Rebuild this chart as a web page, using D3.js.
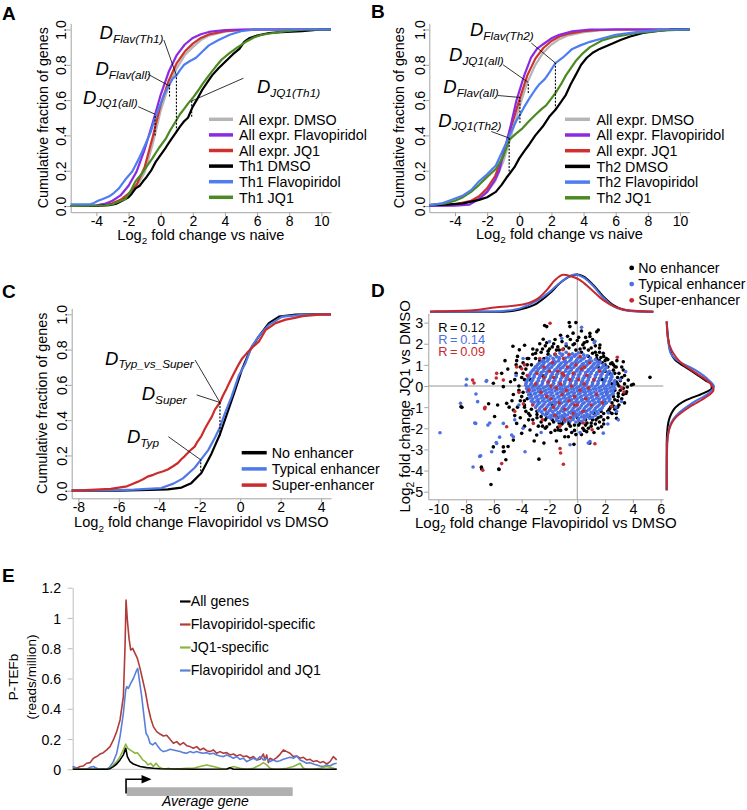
<!DOCTYPE html>
<html>
<head>
<meta charset="utf-8">
<script src="https://d3js.org/d3.v7.min.js"></script>
<style>
html,body{margin:0;padding:0;background:#fff;}
svg{display:block;}
</style>
</head>
<body>
<svg id="fig" width="747" height="810" xmlns="http://www.w3.org/2000/svg"></svg>
<script>
// ======================= DATA =======================
const cdfTicks = [0, 0.2, 0.4, 0.6, 0.8, 1.0];
const abTicksX = [-4, -2, 0, 2, 4, 6, 8, 10];
const cTicksX = [-8, -6, -4, -2, 0, 2, 4];
const dTicksX = [-10, -8, -6, -4, -2, 0, 2, 4, 6];
const dTicksY = [-5, -4, -3, -2, -1, 0, 1, 2, 3];
const eTicksY = [0, 0.2, 0.4, 0.6, 0.8, 1, 1.2];

// Panel A: cumulative fraction vs log2 FC (Th1)
const aNames = ["All expr. DMSO", "All expr. Flavopiridol", "All expr. JQ1", "Th1 DMSO", "Th1 Flavopiridol", "Th1 JQ1"];
const aAllDMSO = [[-5.6,0],[-4,0.003],[-3,0.013],[-2.5,0.03],[-2,0.06],[-1.5,0.11],[-1,0.19],[-0.5,0.35],[0,0.54],[0.5,0.68],[1,0.78],[1.5,0.855],[2,0.9],[2.5,0.94],[3,0.965],[4,0.988],[5,0.997],[6,1],[10.6,1]];
const aAllFlavo = [[-5.6,0],[-4,0.004],[-3.5,0.012],[-3,0.03],[-2.5,0.06],[-2,0.115],[-1.5,0.195],[-1,0.32],[-0.5,0.47],[0,0.63],[0.5,0.76],[1,0.855],[1.5,0.915],[2,0.952],[2.5,0.973],[3,0.986],[4,0.997],[5,1],[10.6,1]];
const aAllJQ1 = [[-5.6,0],[-4,0.003],[-3,0.015],[-2.5,0.035],[-2,0.07],[-1.5,0.12],[-1,0.22],[-0.5,0.39],[0,0.575],[0.5,0.71],[1,0.81],[1.5,0.875],[2,0.92],[2.5,0.952],[3,0.972],[4,0.99],[5,0.997],[6,1],[10.6,1]];
const aTh1DMSO = [[-5.6,0],[-4,0],[-3.2,0.005],[-2.8,0.012],[-2.4,0.03],[-2,0.05],[-1.8,0.07],[-1.56,0.1],[-1.3,0.115],[-1.1,0.14],[-0.94,0.157],[-0.6,0.2],[-0.31,0.25],[0,0.29],[0.31,0.33],[0.6,0.37],[0.98,0.42],[1.2,0.45],[1.46,0.48],[1.7,0.5],[1.98,0.56],[2.3,0.61],[2.6,0.66],[2.9,0.7],[3.2,0.74],[3.6,0.78],[4.05,0.82],[4.5,0.86],[4.9,0.89],[5.2,0.93],[5.5,0.95],[6,0.965],[6.75,0.98],[7.5,0.985],[8.8,0.99],[10,1],[10.6,1]];
const aTh1Flavo = [[-5.6,0.01],[-4.4,0.01],[-4.2,0.015],[-3.9,0.03],[-3.6,0.04],[-3.2,0.055],[-2.9,0.075],[-2.6,0.1],[-2.2,0.15],[-1.77,0.195],[-1.4,0.26],[-1.14,0.31],[-0.9,0.36],[-0.62,0.42],[-0.27,0.52],[0,0.58],[0.2,0.63],[0.5,0.68],[0.73,0.72],[0.98,0.74],[1.2,0.77],[1.46,0.8],[1.8,0.82],[2.2,0.84],[2.6,0.875],[3.0,0.91],[3.6,0.94],[4.3,0.97],[5,0.99],[5.9,1],[10.6,1]];
const aTh1JQ1 = [[-5.6,0],[-3.5,0.003],[-3,0.01],[-2.6,0.025],[-2.2,0.04],[-1.9,0.08],[-1.56,0.14],[-1.2,0.18],[-0.9,0.22],[-0.52,0.27],[-0.1,0.33],[0.31,0.38],[0.6,0.43],[0.94,0.48],[1.2,0.52],[1.46,0.55],[1.7,0.58],[1.98,0.61],[2.3,0.65],[2.6,0.69],[3,0.74],[3.43,0.79],[3.8,0.83],[4.26,0.865],[4.8,0.9],[5.3,0.93],[5.8,0.955],[6.3,0.97],[7,0.98],[7.8,0.99],[9,1],[10.6,1]];
// KS distances: [x, fraction1, fraction2]
const aDash = [[0.98,0.42,0.74],[0.55,0.62,0.69],[-0.35,0.40,0.52],[1.93,0.505,0.595]];
const aNotes = [
  {sub:"Flav(Th1)", label:[-3.8,0.946], from:[0.2,0.94], to:[0.98,0.74]},
  {sub:"Flav(all)", label:[-4.06,0.742], from:[-0.78,0.746], to:[0.55,0.68]},
  {sub:"JQ1(all)", label:[-4.84,0.578], from:[-1.4,0.563], to:[-0.35,0.52]},
  {sub:"JQ1(Th1)", label:[5.99,0.639], from:[5.15,0.724], to:[1.93,0.595]}
];

// Panel B (Th2)
const bNames = ["All expr. DMSO", "All expr. Flavopiridol", "All expr. JQ1", "Th2 DMSO", "Th2 Flavopiridol", "Th2 JQ1"];
const bAllDMSO = [[-5.6,0.005],[-4,0.01],[-3,0.025],[-2.5,0.045],[-2,0.08],[-1.5,0.14],[-1,0.25],[-0.5,0.4],[0,0.56],[0.5,0.7],[1,0.8],[1.5,0.87],[2,0.915],[2.5,0.945],[3,0.965],[4,0.985],[5,0.995],[6,1],[10.6,1]];
const bAllFlavo = [[-5.6,0],[-4,0.002],[-3.1,0.008],[-2.5,0.04],[-2,0.08],[-1.5,0.15],[-1.25,0.2],[-0.94,0.31],[-0.52,0.46],[-0.17,0.6],[0.31,0.74],[0.73,0.84],[1.1,0.89],[1.46,0.915],[2,0.95],[2.5,0.97],[3.3,0.99],[4.4,1],[10.6,1]];
const bAllJQ1 = [[-5.6,0.005],[-4,0.01],[-3,0.03],[-2.5,0.055],[-2,0.1],[-1.5,0.17],[-1,0.29],[-0.5,0.45],[0,0.6],[0.5,0.74],[1,0.835],[1.5,0.895],[2,0.935],[2.5,0.96],[3,0.975],[4,0.99],[5,0.997],[6,1],[10.6,1]];
const bTh2DMSO = [[-5.6,0.005],[-4.5,0.008],[-3.5,0.015],[-3,0.025],[-2.5,0.035],[-2,0.05],[-1.46,0.08],[-1.1,0.12],[-0.8,0.16],[-0.63,0.18],[-0.3,0.22],[0,0.27],[0.3,0.31],[0.63,0.35],[1,0.4],[1.46,0.45],[1.9,0.51],[2.25,0.545],[2.6,0.59],[2.9,0.63],[3.2,0.69],[3.5,0.74],[3.85,0.8],[4.2,0.84],[4.6,0.87],[5,0.89],[5.4,0.905],[5.8,0.92],[6.3,0.94],[6.9,0.96],[7.7,0.98],[8.5,0.99],[9.5,1],[10.6,1]];
const bTh2Flavo = [[-5.6,0.005],[-4.8,0.015],[-4.2,0.035],[-3.5,0.06],[-3,0.09],[-2.5,0.14],[-2,0.18],[-1.46,0.23],[-1.1,0.3],[-0.8,0.36],[-0.5,0.42],[-0.2,0.48],[0,0.51],[0.3,0.56],[0.63,0.61],[1,0.66],[1.25,0.69],[1.6,0.72],[1.9,0.76],[2.25,0.81],[2.7,0.84],[3.3,0.89],[3.8,0.91],[4.4,0.93],[5.2,0.95],[6,0.97],[7.3,0.985],[9,1],[10.6,1]];
const bTh2JQ1 = [[-5.6,0.005],[-4.6,0.015],[-4,0.03],[-3.5,0.05],[-3,0.08],[-2.5,0.12],[-2,0.165],[-1.46,0.21],[-1,0.28],[-0.63,0.375],[-0.2,0.41],[0.2,0.44],[0.6,0.48],[1.04,0.52],[1.4,0.55],[1.67,0.57],[2,0.61],[2.25,0.64],[2.6,0.69],[2.9,0.74],[3.2,0.78],[3.5,0.82],[3.9,0.86],[4.4,0.9],[4.8,0.92],[5.2,0.94],[6,0.96],[7.3,0.98],[9,0.995],[10.6,1]];
const bDash = [[2.25,0.545,0.81],[0.56,0.64,0.70],[0.04,0.47,0.615],[-0.63,0.195,0.385]];
const bNotes = [
  {sub:"Flav(Th2)", label:[-3.07,0.961], from:[0.75,0.923], to:[2.25,0.81]},
  {sub:"JQ1(all)", label:[-4.37,0.819], from:[-1.01,0.80], to:[0.56,0.70]},
  {sub:"Flav(all)", label:[-4.73,0.64], from:[-1.33,0.626], to:[0.04,0.615]},
  {sub:"JQ1(Th2)", label:[-5.04,0.45], from:[-1.74,0.422], to:[-0.63,0.385]}
];

// Panel C: enhancer classes
const cNames = ["No enhancer", "Typical enhancer", "Super-enhancer"];
const cNone = [[-8.33,0],[-6,0.001],[-4.5,0.004],[-3.58,0.008],[-2.9,0.018],[-2.42,0.043],[-1.92,0.1],[-1.42,0.21],[-1,0.32],[-0.58,0.46],[-0.25,0.57],[0.08,0.685],[0.5,0.8],[0.92,0.875],[1.42,0.95],[1.92,0.987],[2.75,0.998],[3.5,1],[4.49,1]];
const cTyp = [[-8.33,0],[-6,0.003],[-5.25,0.006],[-3.9,0.015],[-3.3,0.04],[-2.83,0.07],[-2.25,0.13],[-1.95,0.175],[-1.58,0.23],[-1.25,0.3],[-1,0.36],[-0.75,0.44],[-0.42,0.535],[-0.08,0.65],[0.25,0.72],[0.58,0.82],[0.92,0.875],[1.42,0.94],[2.08,0.987],[3.08,0.997],[4.49,1]];
const cSuper = [[-8.33,0],[-7.9,0.002],[-6.4,0.01],[-5.6,0.025],[-5.3,0.04],[-5.08,0.05],[-4.8,0.065],[-4.58,0.08],[-4.3,0.09],[-4.08,0.1],[-3.8,0.11],[-3.58,0.12],[-3.3,0.14],[-3.08,0.157],[-2.9,0.18],[-2.75,0.195],[-2.5,0.225],[-2.25,0.25],[-2.1,0.28],[-1.92,0.31],[-1.75,0.35],[-1.58,0.385],[-1.4,0.42],[-1.25,0.46],[-1,0.5],[-0.85,0.54],[-0.67,0.58],[-0.5,0.62],[-0.33,0.66],[-0.08,0.715],[0.1,0.75],[0.33,0.78],[0.67,0.82],[0.92,0.845],[1.1,0.88],[1.25,0.91],[1.5,0.93],[1.75,0.95],[2.25,0.97],[2.7,0.98],[3.08,0.99],[3.9,0.998],[4.49,1]];
const cDash = [[-1.95,0.11,0.175],[-1,0.31,0.5]];
const cNotes = [
  {sub:"Typ_vs_Super", label:[-6.68,0.713], from:[-2.23,0.741], to:[-1,0.5]},
  {sub:"Super", label:[-4.87,0.514], from:[-2.15,0.543], to:[-1,0.5]},
  {sub:"Typ", label:[-5.6,0.269], from:[-3.55,0.306], to:[-1.95,0.175]}
];

// Panel D: scatter [log2FC Flavopiridol, log2FC JQ1]
const dNames = ["No enhancer", "Typical enhancer", "Super-enhancer"];
const dR = ["R = 0.12", "R = 0.14", "R = 0.09"];
const dNone = [[-6.21,-4.66],[-5.63,-3.95],[-6.88,-3.93],[-6.04,-2.88],[-5.32,-3.11],[-5.32,-2.88],[-4.6,-2.56],[-2.76,-3.46],[-0.24,-2.76],[-8.37,-0.98],[5.23,0.41],[4.03,0.08],[3.31,1.15],[1.51,2.65],[1.4,2.57],[0.91,2.49],[-0.58,3.0],[-0.1,3.0],[-0.53,2.81],[-2.2,2.81],[-2.45,2.21],[-4.17,1.71],[-4.36,1.2],[-5.2,1.2],[-5.44,0.6],[-6.04,0.13],[-5.32,-0.03],[-5.73,-0.9],[-5.08,-0.82],[-4.6,-1.14],[-4.36,-1.77],[-4.0,-2.24],[-3.4,-2.08],[-2.92,-2.32],[-2.2,-1.93],[-1.36,-2.08],[-0.64,-2.4],[0.68,-2.16],[1.75,-1.93],[2.83,-1.53],[3.31,-0.11],[3.55,-0.27],[3.67,0.28],[2.95,-0.5],[3.31,0.76],[2.71,0.91],[1.87,1.55],[1.63,1.94],[0.91,2.34],[-8.3,-1.01],[-6.9,-3.84],[-5.65,-3.93],[-5.14,-3.49],[-5.26,-3.1],[-4.98,-2.86],[-6.38,-0.84],[-4.63,1.88],[-3.79,1.93],[-2.35,2.86],[-5.95,-1.44],
[-3.5,1.3],[-3.2,1.5],[-2.9,1.7],[-2.6,1.6],[-2.3,1.9],[-2.0,1.75],[-1.7,2.0],[-1.4,1.85],[-1.1,2.1],[-0.8,1.9],[-0.5,2.2],[-0.2,2.0],[0.1,2.3],[0.4,1.95],[0.7,2.1],[1.0,1.8],[1.3,1.9],[1.6,1.6],[1.9,1.4],[2.2,1.25],[2.5,1.1],[2.8,0.9],[-0.3,2.5],[-1.2,2.4],[0.3,2.6],[-2.7,2.0],[1.1,2.2],
[3.0,0.6],[3.2,0.4],[3.4,0.1],[3.1,-0.2],[3.3,-0.4],[2.9,-0.7],[3.0,-0.9],[2.7,-1.1],[2.5,-1.3],[3.6,-0.05],[3.9,0.05],[2.6,0.75],[2.4,-1.0],[2.2,-1.5],[2.8,0.2],[3.0,0.0],
[1.9,-1.6],[1.6,-1.7],[1.3,-1.8],[1.0,-1.9],[0.7,-1.75],[0.4,-2.0],[0.1,-1.85],[-0.2,-2.1],[-0.5,-1.9],[-0.8,-2.05],[-1.1,-1.8],[-1.4,-1.95],[-1.7,-1.7],[-2.0,-1.8],[-2.3,-1.6],[-2.6,-1.7],[-2.9,-1.5],[-3.2,-1.6],[-3.5,-1.3],[0.3,-2.3],[-0.9,-2.4],[1.2,-2.2],[-1.9,-2.2],[-3.1,-2.6],[-3.8,-1.9],[-2.4,-2.7],[0.9,-2.7],[-1.5,-2.6],
[-3.8,-1.0],[-4.1,-0.7],[-3.9,-0.3],[-4.2,0.0],[-4.0,0.4],[-3.7,0.8],[-4.4,0.6],[-3.9,1.1],[-4.6,-0.4],[-4.8,0.2],[-4.5,-1.4],[-3.6,-0.6],[-3.4,0.3],[-4.9,-1.0],[-5.0,0.8],[-3.3,-1.1],[-3.3,1.0],[-4.3,1.4],
[-2.5,0.5],[-1.8,-0.9],[-0.9,1.2],[0.6,-1.2],[1.5,0.9],[2.0,-0.8],[1.8,0.3],[-2.8,-0.8],[-3.0,0.9],[2.3,0.6],[2.1,-0.3],[1.2,-1.3],[-2.7,1.2],[-1.0,-1.5],[0.0,-1.5],[0.8,1.4],[-2.2,-1.3],[2.5,0.1],[1.7,-1.2],[-3.1,0.0],[0.3,1.6],[-1.6,1.5],[2.6,-0.5],[1.4,1.3],[-2.9,-1.2],[0.9,-1.5],[-0.6,-1.7],[-1.4,-1.5],[-3.4,-0.4],[2.0,1.0],[2.3,-1.1],
[1.6,1.2],[2.0,0.7],[2.4,0.3],[2.7,-0.2],[2.5,-0.8],[2.2,-1.2],[1.9,-1.3],[1.5,-1.5],[1.1,-1.6],[0.6,-1.6],[2.9,0.4],[2.6,1.0],[1.8,1.1],[2.2,0.9],[3.2,-0.6],[2.8,-1.3],[2.1,1.3],[1.3,1.6],[0.5,1.8],[-0.1,1.7],[-2.1,1.5],[-2.4,1.3],[-1.3,1.7],[-3.0,1.3],[-3.6,1.0],[-3.8,-0.9],[-3.5,-1.6],[-2.5,-1.9],[-1.2,-2.1],[0.5,-2.1],[1.5,-2.0],
[-3.0,1.55],[-2.5,1.75],[-2.1,1.65],[-1.8,1.85],[-1.5,1.7],[-1.0,1.75],[-0.6,1.8],[-0.3,1.95],[0.2,1.75],[0.5,2.05],[0.8,1.7],[1.1,1.55],[1.4,1.45],[1.7,1.35],[2.0,1.2],[2.4,1.05],[-1.6,2.2],[-0.7,2.35],[0.0,2.15],[0.6,2.3],[1.6,1.8],[-2.2,2.05],[-3.2,1.75],
[2.7,0.6],[2.9,0.1],[3.1,0.25],[2.95,-0.35],[2.7,-0.65],[2.6,-0.95],[2.35,-1.25],[3.4,0.5],[3.5,-0.35],[3.2,0.9],[2.85,1.2],[3.4,-0.8],[2.9,-1.0],
[1.7,-1.45],[1.35,-1.6],[1.0,-1.75],[0.6,-1.85],[0.2,-1.75],[-0.2,-1.85],[-0.6,-1.8],[-1.0,-1.7],[-1.3,-1.75],[-1.8,-1.6],[-2.2,-1.5],[-2.6,-1.45],[-2.9,-1.35],[-0.4,-2.2],[0.8,-2.0],[-1.6,-2.1],[-2.8,-1.9],[1.9,-1.8],[-0.1,-2.3],[-2.3,-2.0],
[-3.8,0.3],[-3.9,0.6],[-4.1,0.9],[-4.2,-0.2],[-4.0,-0.5],[-3.8,-0.7],[-3.7,-1.2],[-4.3,-1.0],[-4.5,0.3],[-4.7,-0.7],[-3.6,1.3],[-4.4,1.0],[-3.4,-1.4],[-4.1,-1.5]];
const dTyp = [[-9.88,-2.21],[-7.96,0.32],[-8.0,0.05],[-8.4,-0.82],[-7.29,-0.38],[-6.52,0.26],[-7.17,-0.74],[-7.31,-1.77],[-6.43,-1.85],[-5.8,-2.72],[-6.16,-3.11],[-6.95,-3.3],[-7.5,-3.83],[-4.6,-2.4],[-3.76,-3.11],[0.91,-2.63],[3.48,0.68],[1.22,2.05],[0.31,2.78],[-1.12,2.26],[-1.48,1.39],[-5.32,-1.77],[-4.72,-2.32],[2.76,-1.0],[2.23,-1.27],[-7.38,-1.75],[-6.3,-1.75],[-5.83,-2.67],[-5.59,-2.42],[-7.02,-3.33],[-6.55,0.22],[1.27,2.12],[0.79,-2.7],[-0.52,-2.78],[2.95,-1.6],[3.19,-0.73],[1.87,-2.23],[2.83,-1.2],[-4.4,0.5],[-4.2,-0.9],[-3.9,1.3],[-4.5,-1.6],[-3.9,-2.0],[-2.6,-2.2],[0.2,-2.2],[2.2,-1.8],[-0.8,2.0],[-2.0,2.1],[3.1,0.3],
[-1.25,1.55],[-0.8,1.6],[-0.35,1.52],[0.1,1.57],
[-1.6,1.48],[-1.05,1.5],[-0.55,1.47],[-0.1,1.49],[0.45,1.48],
[-1.95,1.42],[-1.5,1.38],[-1.1,1.44],[-0.65,1.37],[-0.2,1.41],[0.25,1.36],[0.7,1.43],
[-2.2,1.33],[-1.75,1.31],[-1.3,1.35],[-0.85,1.32],[-0.4,1.34],[0.05,1.31],[0.5,1.33],[0.95,1.32],
[-2.45,1.22],[-2.05,1.27],[-1.7,1.24],[-1.3,1.28],[-0.9,1.21],[-0.45,1.26],[-0.05,1.23],[0.4,1.28],[0.85,1.2],[1.3,1.25],
[-2.55,1.16],[-2.15,1.18],[-1.75,1.15],[-1.35,1.19],[-0.95,1.16],[-0.55,1.18],[-0.15,1.15],[0.25,1.19],[0.65,1.16],[1.05,1.18],[1.45,1.15],
[-2.75,1.08],[-2.35,1.12],[-1.95,1.06],[-1.55,1.13],[-1.15,1.09],[-0.75,1.11],[-0.35,1.07],[0.05,1.12],[0.45,1.06],[0.85,1.1],[1.25,1.08],[1.65,1.13],
[-2.85,1.01],[-2.45,1.03],[-2.05,1.0],[-1.65,1.04],[-1.25,1.01],[-0.85,1.03],[-0.45,1.0],[-0.05,1.04],[0.35,1.01],[0.75,1.03],[1.15,1.0],[1.55,1.04],[1.9,1.01],
[-2.95,0.93],[-2.55,0.97],[-2.15,0.92],[-1.75,0.98],[-1.35,0.94],[-0.95,0.96],[-0.55,0.91],[-0.15,0.97],[0.25,0.93],[0.65,0.96],[1.05,0.92],[1.45,0.97],[1.85,0.94],
[-3.05,0.86],[-2.65,0.88],[-2.25,0.85],[-1.85,0.89],[-1.45,0.86],[-1.05,0.88],[-0.65,0.85],[-0.25,0.89],[0.15,0.86],[0.55,0.88],[0.95,0.85],[1.35,0.89],[1.75,0.86],[2.1,0.88],
[-3.15,0.78],[-2.8,0.82],[-2.4,0.79],[-2.0,0.81],[-1.6,0.77],[-1.2,0.83],[-0.8,0.79],[-0.4,0.82],[0.0,0.78],[0.4,0.81],[0.8,0.77],[1.2,0.82],[1.6,0.79],[2.0,0.8],
[-3.25,0.71],[-2.85,0.73],[-2.45,0.7],[-2.05,0.74],[-1.65,0.71],[-1.25,0.73],[-0.85,0.7],[-0.45,0.74],[-0.05,0.71],[0.35,0.73],[0.75,0.7],[1.15,0.74],[1.55,0.71],[1.95,0.73],[2.3,0.7],
[-3.35,0.63],[-2.95,0.67],[-2.6,0.64],[-2.2,0.66],[-1.8,0.62],[-1.4,0.67],[-1.0,0.63],[-0.6,0.66],[-0.2,0.62],[0.2,0.67],[0.6,0.64],[1.0,0.66],[1.4,0.62],[1.8,0.67],[2.2,0.64],
[-3.4,0.56],[-3.0,0.58],[-2.6,0.55],[-2.2,0.59],[-1.8,0.56],[-1.4,0.58],[-1.0,0.55],[-0.6,0.59],[-0.2,0.56],[0.2,0.58],[0.6,0.55],[1.0,0.59],[1.4,0.56],[1.8,0.58],[2.2,0.55],[2.5,0.58],
[-3.45,0.48],[-3.1,0.52],[-2.7,0.49],[-2.3,0.51],[-1.9,0.47],[-1.5,0.53],[-1.1,0.49],[-0.7,0.52],[-0.3,0.48],[0.1,0.51],[0.5,0.47],[0.9,0.53],[1.3,0.49],[1.7,0.52],[2.1,0.48],[2.45,0.51],
[-3.5,0.41],[-3.1,0.43],[-2.7,0.4],[-2.3,0.44],[-1.9,0.41],[-1.5,0.43],[-1.1,0.4],[-0.7,0.44],[-0.3,0.41],[0.1,0.43],[0.5,0.4],[0.9,0.44],[1.3,0.41],[1.7,0.43],[2.1,0.4],[2.5,0.43],
[-3.55,0.33],[-3.2,0.37],[-2.8,0.34],[-2.4,0.36],[-2.0,0.32],[-1.6,0.37],[-1.2,0.33],[-0.8,0.36],[-0.4,0.32],[0.0,0.37],[0.4,0.34],[0.8,0.36],[1.2,0.32],[1.6,0.37],[2.0,0.33],[2.4,0.36],
[-3.6,0.26],[-3.2,0.28],[-2.8,0.25],[-2.4,0.29],[-2.0,0.26],[-1.6,0.28],[-1.2,0.25],[-0.8,0.29],[-0.4,0.26],[0.0,0.28],[0.4,0.25],[0.8,0.29],[1.2,0.26],[1.6,0.28],[2.0,0.25],[2.4,0.29],[2.7,0.26],
[-3.65,0.18],[-3.3,0.22],[-2.9,0.19],[-2.5,0.21],[-2.1,0.17],[-1.7,0.22],[-1.3,0.18],[-0.9,0.21],[-0.5,0.17],[-0.1,0.22],[0.3,0.19],[0.7,0.21],[1.1,0.17],[1.5,0.22],[1.9,0.18],[2.3,0.21],[2.65,0.19],
[-3.7,0.11],[-3.3,0.13],[-2.9,0.1],[-2.5,0.14],[-2.1,0.11],[-1.7,0.13],[-1.3,0.1],[-0.9,0.14],[-0.5,0.11],[-0.1,0.13],[0.3,0.1],[0.7,0.14],[1.1,0.11],[1.5,0.13],[1.9,0.1],[2.3,0.14],[2.7,0.11],
[-3.7,0.03],[-3.35,0.07],[-2.95,0.04],[-2.55,0.06],[-2.15,0.02],[-1.75,0.07],[-1.35,0.03],[-0.95,0.06],[-0.55,0.02],[-0.15,0.07],[0.25,0.04],[0.65,0.06],[1.05,0.02],[1.45,0.07],[1.85,0.03],[2.25,0.06],[2.65,0.04],
[-3.5,-0.02],[-3.1,-0.04],[-2.7,-0.01],[-2.3,-0.05],[-1.9,-0.02],[-1.5,-0.04],[-1.1,-0.01],[-0.7,-0.05],[-0.3,-0.02],[0.1,-0.04],[0.5,-0.01],[0.9,-0.05],[1.3,-0.02],[1.7,-0.04],[2.1,-0.01],[2.5,-0.05],
[-3.65,-0.12],[-3.25,-0.08],[-2.85,-0.11],[-2.45,-0.09],[-2.05,-0.13],[-1.65,-0.08],[-1.25,-0.12],[-0.85,-0.09],[-0.45,-0.13],[-0.05,-0.08],[0.35,-0.11],[0.75,-0.09],[1.15,-0.13],[1.55,-0.08],[1.95,-0.12],[2.35,-0.09],[2.7,-0.11],
[-3.45,-0.17],[-3.05,-0.19],[-2.65,-0.16],[-2.25,-0.2],[-1.85,-0.17],[-1.45,-0.19],[-1.05,-0.16],[-0.65,-0.2],[-0.25,-0.17],[0.15,-0.19],[0.55,-0.16],[0.95,-0.2],[1.35,-0.17],[1.75,-0.19],[2.15,-0.16],[2.55,-0.2],
[-3.6,-0.27],[-3.2,-0.23],[-2.8,-0.26],[-2.4,-0.24],[-2.0,-0.28],[-1.6,-0.23],[-1.2,-0.27],[-0.8,-0.24],[-0.4,-0.28],[0.0,-0.23],[0.4,-0.26],[0.8,-0.24],[1.2,-0.28],[1.6,-0.23],[2.0,-0.27],[2.4,-0.24],
[-3.4,-0.32],[-3.0,-0.34],[-2.6,-0.31],[-2.2,-0.35],[-1.8,-0.32],[-1.4,-0.34],[-1.0,-0.31],[-0.6,-0.35],[-0.2,-0.32],[0.2,-0.34],[0.6,-0.31],[1.0,-0.35],[1.4,-0.32],[1.8,-0.34],[2.2,-0.31],[2.6,-0.35],
[-3.5,-0.42],[-3.1,-0.38],[-2.7,-0.41],[-2.3,-0.39],[-1.9,-0.43],[-1.5,-0.38],[-1.1,-0.42],[-0.7,-0.39],[-0.3,-0.43],[0.1,-0.38],[0.5,-0.41],[0.9,-0.39],[1.3,-0.43],[1.7,-0.38],[2.1,-0.42],[2.5,-0.39],
[-3.3,-0.47],[-2.9,-0.49],[-2.5,-0.46],[-2.1,-0.5],[-1.7,-0.47],[-1.3,-0.49],[-0.9,-0.46],[-0.5,-0.5],[-0.1,-0.47],[0.3,-0.49],[0.7,-0.46],[1.1,-0.5],[1.5,-0.47],[1.9,-0.49],[2.3,-0.46],
[-3.4,-0.57],[-3.0,-0.53],[-2.6,-0.56],[-2.2,-0.54],[-1.8,-0.58],[-1.4,-0.53],[-1.0,-0.57],[-0.6,-0.54],[-0.2,-0.58],[0.2,-0.53],[0.6,-0.56],[1.0,-0.54],[1.4,-0.58],[1.8,-0.53],[2.2,-0.56],
[-3.2,-0.62],[-2.8,-0.64],[-2.4,-0.61],[-2.0,-0.65],[-1.6,-0.62],[-1.2,-0.64],[-0.8,-0.61],[-0.4,-0.65],[0.0,-0.62],[0.4,-0.64],[0.8,-0.61],[1.2,-0.65],[1.6,-0.62],[2.0,-0.64],[2.35,-0.61],
[-3.3,-0.72],[-2.9,-0.68],[-2.5,-0.71],[-2.1,-0.69],[-1.7,-0.73],[-1.3,-0.68],[-0.9,-0.72],[-0.5,-0.69],[-0.1,-0.73],[0.3,-0.68],[0.7,-0.71],[1.1,-0.69],[1.5,-0.73],[1.9,-0.68],[2.3,-0.71],
[-3.1,-0.77],[-2.7,-0.79],[-2.3,-0.76],[-1.9,-0.8],[-1.5,-0.77],[-1.1,-0.79],[-0.7,-0.76],[-0.3,-0.8],[0.1,-0.77],[0.5,-0.79],[0.9,-0.76],[1.3,-0.8],[1.7,-0.77],[2.1,-0.79],
[-3.2,-0.87],[-2.8,-0.83],[-2.4,-0.86],[-2.0,-0.84],[-1.6,-0.88],[-1.2,-0.83],[-0.8,-0.87],[-0.4,-0.84],[0.0,-0.88],[0.4,-0.83],[0.8,-0.86],[1.2,-0.84],[1.6,-0.88],[2.0,-0.83],
[-2.9,-0.92],[-2.5,-0.94],[-2.1,-0.91],[-1.7,-0.95],[-1.3,-0.92],[-0.9,-0.94],[-0.5,-0.91],[-0.1,-0.95],[0.3,-0.92],[0.7,-0.94],[1.1,-0.91],[1.5,-0.95],[1.9,-0.92],
[-3.0,-1.02],[-2.6,-0.98],[-2.2,-1.01],[-1.8,-0.99],[-1.4,-1.03],[-1.0,-0.98],[-0.6,-1.02],[-0.2,-0.99],[0.2,-1.03],[0.6,-0.98],[1.0,-1.01],[1.4,-0.99],[1.8,-1.03],
[-2.7,-1.07],[-2.3,-1.09],[-1.9,-1.06],[-1.5,-1.1],[-1.1,-1.07],[-0.7,-1.09],[-0.3,-1.06],[0.1,-1.1],[0.5,-1.07],[0.9,-1.09],[1.3,-1.06],[1.7,-1.1],
[-2.8,-1.17],[-2.4,-1.13],[-2.0,-1.16],[-1.6,-1.14],[-1.2,-1.18],[-0.8,-1.13],[-0.4,-1.17],[0.0,-1.14],[0.4,-1.18],[0.8,-1.13],[1.2,-1.16],[1.6,-1.14],
[-2.6,-1.22],[-2.2,-1.24],[-1.8,-1.21],[-1.4,-1.25],[-1.0,-1.22],[-0.6,-1.24],[-0.2,-1.21],[0.2,-1.25],[0.6,-1.22],[1.0,-1.24],[1.4,-1.21],
[-2.5,-1.32],[-2.1,-1.28],[-1.7,-1.31],[-1.3,-1.29],[-0.9,-1.33],[-0.5,-1.28],[-0.1,-1.32],[0.3,-1.29],[0.7,-1.33],[1.1,-1.28],[1.5,-1.31],
[-2.3,-1.37],[-1.9,-1.39],[-1.5,-1.36],[-1.1,-1.4],[-0.7,-1.37],[-0.3,-1.39],[0.1,-1.36],[0.5,-1.4],[0.9,-1.37],[1.3,-1.39],
[-2.1,-1.47],[-1.7,-1.43],[-1.3,-1.46],[-0.9,-1.44],[-0.5,-1.48],[-0.1,-1.43],[0.3,-1.46],[0.7,-1.44],[1.1,-1.48],
[-1.9,-1.52],[-1.5,-1.54],[-1.1,-1.51],[-0.7,-1.55],[-0.3,-1.52],[0.1,-1.54],[0.5,-1.51],[0.9,-1.53],
[-1.5,-1.62],[-1.1,-1.58],[-0.7,-1.61],[-0.3,-1.59],[0.1,-1.63],[0.5,-1.58],
[-1.3,-1.67],[-0.9,-1.69],[-0.5,-1.66],[-0.1,-1.7],[0.3,-1.67]];
const dSuper = [[-2.9,0.6],[-2.6,-0.3],[-2.4,0.9],[-2.3,-1.1],[-2.1,0.2],[-1.9,-0.6],[-1.8,1.1],[-1.7,0.4],[-1.6,-1.4],[-1.5,-0.1],[-1.4,0.7],[-1.3,-0.8],[-1.2,0.1],[-1.1,-0.4],[-1.0,1.3],[-0.95,0.5],[-0.9,-1.1],[-0.8,-0.2],[-0.7,0.9],[-0.6,-0.7],[-0.55,0.3],[-0.5,-1.5],[-0.4,0.0],[-0.3,0.6],[-0.2,-0.5],[-0.1,1.0],[0.0,-0.9],[0.1,0.3],[0.2,-0.2],[0.3,0.8],[0.4,-1.2],[0.5,0.1],[0.6,-0.6],[0.7,0.5],[0.8,-0.1],[0.9,1.1],[1.0,-0.9],[1.2,0.3],[1.4,-0.4],[1.6,0.7],[-3.2,-0.9],[-3.0,0.1],[-2.7,1.3],[-2.2,-0.5],[-2.0,0.7],[-1.6,1.5],[-0.9,-1.6],[-0.3,-1.3],[0.2,1.4],[-1.25,-1.9],[-3.5,-0.2],[-2.5,-1.6],[1.8,-0.8],[-1.7,-1.0],[-0.6,1.5],[-1.9,0.0],[0.5,0.9],[-0.2,-0.9],[-2.4,0.4],[-1.1,0.6],
[-7.53,0.28],[-6.64,-1.01],[-5.8,0.6],[-5.32,0.28],[-6.8,-3.98],[-5.44,-3.67],[-5.08,-1.93],[-4.36,0.9],[-4.0,0.82],[-1.0,-3.7],[-1.24,-2.96],[-1.2,-3.17],[1.27,-2.73],[-1.96,2.97],[-3.16,-1.77],[-3.88,-0.84],[3.19,-0.09],[3.36,-0.28],[2.88,1.36],[-1.05,1.72],[1.07,-2.07],[0.43,-1.75],[2.47,-0.96],[-7.43,0.14],[-6.66,-1.07],[-5.83,0.38],[-4.5,-1.2],[-4.2,-0.3],[-3.6,0.5],[-3.8,1.0]];
// marginal densities [value, relative density]
const dTopNone = [[-10.6,0],[-5.3,0],[-4.12,0.06],[-2.92,0.22],[-1.96,0.5],[-1.24,0.77],[-0.52,0.95],[-0.04,1.0],[0.44,0.95],[1.15,0.72],[1.87,0.41],[2.59,0.18],[3.31,0.06],[4.27,0.01],[5.47,0]];
const dTopTyp = [[-10.6,0],[-6,0.005],[-5,0.03],[-4.12,0.09],[-2.92,0.29],[-1.96,0.54],[-1.24,0.78],[-0.52,0.96],[-0.16,1.0],[0.44,0.92],[1.15,0.69],[1.87,0.38],[2.59,0.15],[3.31,0.045],[4.27,0.005],[5.47,0]];
const dTopSuper = [[-10.6,0],[-10.1,0.01],[-7.72,0.03],[-5.8,0.12],[-4.84,0.15],[-3.64,0.22],[-2.92,0.33],[-2.2,0.58],[-1.6,0.85],[-1.0,0.99],[-0.52,0.96],[0.2,0.85],[0.91,0.63],[1.87,0.31],[2.83,0.11],[3.79,0.03],[5.47,0]];
const dRightNone = [[3.05,0],[1.71,0.07],[1.23,0.18],[0.76,0.49],[0.28,0.81],[0.05,0.95],[-0.11,0.95],[-0.35,0.77],[-0.66,0.42],[-1.14,0.14],[-1.93,0.02],[-2.72,0],[-4.93,0]];
const dRightTyp = [[3.05,0],[1.71,0.06],[1.23,0.21],[0.76,0.6],[0.28,0.89],[-0.03,1.0],[-0.35,0.88],[-0.82,0.53],[-1.29,0.25],[-1.93,0.06],[-2.72,0.01],[-4.93,0]];
const dRightSuper = [[3.05,0],[2.34,0.02],[1.71,0.1],[1.07,0.32],[0.6,0.63],[0.13,0.92],[-0.19,0.99],[-0.5,0.85],[-0.98,0.49],[-1.45,0.21],[-2.08,0.05],[-2.72,0.01],[-3.98,0],[-4.93,0]];

// Panel E: P-TEFb metagene profile [position relative to TSS (a.u.), reads/million]
const eNames = ["All genes", "Flavopiridol-specific", "JQ1-specific", "Flavopiridol and JQ1"];
const eGeneEnd = 500;
const eAll = [[-160,0],[-58,0],[-48,0.004],[-38,0.018],[-28,0.035],[-18,0.062],[-8,0.095],[-1,0.139],[4,0.084],[12,0.051],[22,0.035],[32,0.026],[42,0.018],[62,0.011],[82,0.007],[102,0.004],[152,0.002],[202,0],[302,0.002],[312,0.011],[322,0],[632,0]];
const eFlavo = [[-160,0.018],[-148,0.007],[-138,0.018],[-128,0.022],[-118,0.04],[-108,0.044],[-98,0.073],[-88,0.084],[-78,0.101],[-68,0.11],[-58,0.128],[-48,0.15],[-38,0.194],[-28,0.249],[-18,0.326],[-8,0.48],[-3,0.81],[0,1.118],[4,0.986],[9,0.865],[14,0.788],[20,0.799],[27,0.766],[34,0.733],[42,0.667],[50,0.59],[58,0.513],[66,0.414],[74,0.337],[82,0.282],[92,0.249],[102,0.233],[112,0.22],[122,0.225],[132,0.198],[142,0.172],[152,0.183],[162,0.161],[172,0.176],[182,0.156],[192,0.15],[202,0.139],[212,0.15],[222,0.128],[232,0.139],[242,0.123],[252,0.117],[262,0.128],[272,0.106],[282,0.117],[292,0.106],[302,0.11],[312,0.095],[322,0.101],[332,0.088],[342,0.097],[352,0.084],[362,0.088],[372,0.073],[382,0.084],[392,0.062],[402,0.066],[412,0.101],[417,0.062],[422,0.095],[427,0.044],[432,0.073],[442,0.062],[452,0.077],[462,0.099],[472,0.128],[482,0.117],[492,0.106],[502,0.084],[512,0.088],[522,0.073],[532,0.079],[542,0.062],[552,0.066],[562,0.051],[572,0.057],[582,0.044],[592,0.051],[602,0.035],[612,0.051],[622,0.084],[632,0.062]];
const eJQ1 = [[-160,0.007],[-148,0],[-58,0],[-48,0.007],[-38,0.029],[-28,0.051],[-18,0.084],[-8,0.128],[-1,0.167],[5,0.139],[12,0.128],[20,0.117],[27,0.106],[34,0.11],[42,0.088],[50,0.062],[58,0.051],[66,0.029],[74,0.04],[82,0.018],[90,0.04],[98,0.018],[107,0.007],[117,0],[127,0.007],[137,0],[147,0],[162,0.004],[182,0.007],[202,0.007],[222,0.018],[242,0.029],[262,0.018],[282,0.007],[302,0],[322,0.018],[342,0.007],[362,0],[382,0.007],[402,0.029],[412,0.044],[422,0.029],[432,0.007],[442,0],[462,0],[482,0.007],[502,0.018],[512,0.029],[522,0.04],[532,0.007],[542,0],[562,0],[582,0.007],[602,0.018],[622,0.007],[632,0]];
const eBoth = [[-160,0.018],[-148,0.007],[-138,0],[-128,0],[-118,0],[-108,0.013],[-98,0.018],[-88,0.007],[-78,0],[-68,0.004],[-58,0],[-48,0.018],[-38,0.051],[-28,0.106],[-18,0.216],[-8,0.37],[-1,0.524],[2,0.546],[7,0.535],[14,0.568],[22,0.6],[30,0.645],[35,0.667],[40,0.59],[47,0.48],[54,0.348],[60,0.238],[66,0.216],[72,0.172],[80,0.161],[88,0.176],[96,0.15],[104,0.128],[112,0.117],[122,0.123],[132,0.132],[142,0.128],[152,0.123],[162,0.117],[172,0.11],[182,0.106],[192,0.117],[202,0.11],[212,0.117],[222,0.11],[232,0.106],[242,0.11],[252,0.101],[262,0.106],[272,0.095],[282,0.088],[292,0.084],[302,0.095],[312,0.084],[322,0.073],[332,0.084],[342,0.066],[352,0.073],[362,0.051],[372,0.062],[382,0.073],[392,0.062],[402,0.084],[412,0.062],[422,0.073],[432,0.051],[442,0.062],[452,0.051],[462,0.057],[472,0.066],[482,0.073],[492,0.079],[502,0.073],[512,0.088],[522,0.062],[532,0.051],[542,0.04],[552,0.044],[562,0.035],[572,0.029],[582,0.022],[592,0.018],[602,0.029],[612,0.022],[622,0.035],[632,0.04]];

// ======================= DRAWING =======================
const svg = d3.select("#fig");
const FONT = '"Liberation Sans", Arial, Helvetica, sans-serif';
const AXC = "#a3a3a3";
const COL = {gray:"#b5b5b5", purple:"#8a2be2", red:"#d0312d", black:"#000000", blue:"#4d7ef0", green:"#4b8a20"};

function txt(g, x, y, s, size, o = {}) {
  const t = g.append("text").attr("x", x).attr("y", y).text(s)
    .attr("font-family", FONT).attr("font-size", size).attr("fill", o.fill || "#000");
  if (o.anchor) t.attr("text-anchor", o.anchor);
  if (o.weight) t.attr("font-weight", o.weight);
  if (o.style) t.attr("font-style", o.style);
  return t;
}
function rotText(g, x, y, s, size) {
  return g.append("text").attr("transform", `translate(${x},${y}) rotate(-90)`)
    .attr("text-anchor", "middle").attr("font-family", FONT).attr("font-size", size).text(s);
}
function log2Title(g, x, y, rest, size, rotate) {
  const t = g.append("text").attr("font-family", FONT).attr("font-size", size).attr("text-anchor", "middle");
  if (rotate) t.attr("transform", `translate(${x},${y}) rotate(-90)`); else t.attr("x", x).attr("y", y);
  t.append("tspan").text("Log");
  t.append("tspan").text("2").attr("font-size", size * 0.68).attr("dy", size * 0.3);
  t.append("tspan").text(" " + rest).attr("dy", -size * 0.3);
  return t;
}
function styleAxis(a, size) {
  a.attr("font-family", FONT).attr("font-size", size);
  a.select(".domain").attr("stroke", AXC).attr("stroke-width", 1);
  a.selectAll(".tick line").attr("stroke", AXC);
  a.selectAll(".tick text").attr("fill", "#000");
}
function dLabel(g, x, y, sub) {
  const t = g.append("text").attr("x", x).attr("y", y).attr("font-family", FONT).attr("font-style", "italic");
  t.append("tspan").text("D").attr("font-size", 18.5);
  t.append("tspan").text(sub).attr("font-size", 11.8).attr("dy", 3.5);
}

function cdfPanel(p) {
  const g = svg.append("g");
  const x = d3.scaleLinear().domain(p.xDomain).range(p.xRange);
  const y = d3.scaleLinear().domain(p.yDomain).range(p.yRange);
  const ax = g.append("g").attr("transform", `translate(0,${p.yRange[0]})`)
    .call(d3.axisBottom(x).tickValues(p.xTicks).tickSize(4).tickSizeOuter(0).tickFormat(d => String(d)));
  const ay = g.append("g").attr("transform", `translate(${p.xRange[0]},0)`)
    .call(d3.axisLeft(y).tickValues(cdfTicks).tickSize(4).tickSizeOuter(0).tickFormat(d3.format(".1f")));
  styleAxis(ax, 14); styleAxis(ay, 14);
  ax.selectAll(".tick text").attr("y", 14.2).attr("dy", null);
  ay.selectAll(".tick text").attr("x", null).attr("dy", null).attr("text-anchor", "middle")
    .attr("transform", "translate(-4.3,0) rotate(-90)");
  rotText(g, p.yTitleX, (p.yRange[0] + p.yRange[1]) / 2, "Cumulative fraction of genes", 14.3);
  log2Title(g, (p.xRange[0] + p.xRange[1]) / 2, p.xTitleY, p.xTitle, p.xTitleSize, false);

  const line = d3.line().x(d => x(d[0])).y(d => y(d[1]));
  p.order.forEach(i => {
    g.append("path").attr("d", line(p.series[i])).attr("fill", "none")
      .attr("stroke", p.colors[i]).attr("stroke-width", 2.2).attr("stroke-linejoin", "round");
  });
  p.dashes.forEach(d => {
    g.append("line").attr("x1", x(d[0])).attr("x2", x(d[0])).attr("y1", y(d[1])).attr("y2", y(d[2]))
      .attr("stroke", "#000").attr("stroke-width", 1.1).attr("stroke-dasharray", "2,1.5");
  });
  p.notes.forEach(n => {
    g.append("line").attr("x1", x(n.from[0])).attr("y1", y(n.from[1])).attr("x2", x(n.to[0])).attr("y2", y(n.to[1]))
      .attr("stroke", "#000").attr("stroke-width", 0.8);
    dLabel(g, x(n.label[0]), y(n.label[1]), n.sub);
  });
  p.names.forEach((nm, i) => {
    const yy = p.legend.y0 + i * p.legend.dy;
    g.append("line").attr("x1", p.legend.x0).attr("x2", p.legend.x1).attr("y1", yy).attr("y2", yy)
      .attr("stroke", p.colors[i]).attr("stroke-width", 3.5);
    txt(g, p.legend.xt, yy + 5.2, nm, 14.3);
  });
}

// Panel letters
txt(svg, 2, 20, "A", 19, {weight: "bold"});
txt(svg, 371, 17.5, "B", 19, {weight: "bold"});
txt(svg, 2, 298, "C", 19, {weight: "bold"});
txt(svg, 371, 296.5, "D", 19, {weight: "bold"});
txt(svg, 2, 581.5, "E", 19, {weight: "bold"});

const abColors = [COL.gray, COL.purple, COL.red, COL.black, COL.blue, COL.green];
cdfPanel({
  xDomain: [-5.6, 10.6], xRange: [70.7, 331], yDomain: [-0.035, 1.035], yRange: [212.2, 23.3],
  xTicks: abTicksX, yTitleX: 47.5, xTitleY: 239.8, xTitle: "fold change vs naive", xTitleSize: 14.6,
  series: [aAllDMSO, aAllFlavo, aAllJQ1, aTh1DMSO, aTh1Flavo, aTh1JQ1], names: aNames, colors: abColors,
  order: [0, 2, 1, 3, 5, 4], dashes: aDash, notes: aNotes,
  legend: {x0: 209, x1: 233, xt: 239, y0: 119.3, dy: 15.6}
});
cdfPanel({
  xDomain: [-5.6, 10.6], xRange: [429.3, 689.6], yDomain: [-0.035, 1.035], yRange: [212.2, 23.3],
  xTicks: abTicksX, yTitleX: 404, xTitleY: 239, xTitle: "fold change vs naive", xTitleSize: 14.6,
  series: [bAllDMSO, bAllFlavo, bAllJQ1, bTh2DMSO, bTh2Flavo, bTh2JQ1], names: bNames, colors: abColors,
  order: [0, 2, 1, 3, 5, 4], dashes: bDash, notes: bNotes,
  legend: {x0: 565, x1: 590, xt: 596.5, y0: 119.3, dy: 15.7}
});
cdfPanel({
  xDomain: [-8.33, 4.49], xRange: [71.7, 331], yDomain: [-0.043, 1.034], yRange: [498.3, 308.3],
  xTicks: cTicksX, yTitleX: 46.5, xTitleY: 527.2, xTitle: "fold change Flavopiridol vs DMSO", xTitleSize: 14.6,
  series: [cNone, cTyp, cSuper], names: cNames, colors: ["#000000", "#4f78e8", "#cc2b2b"],
  order: [0, 1, 2], dashes: cDash, notes: cNotes,
  legend: {x0: 241.7, x1: 266.7, xt: 271.7, y0: 452.7, dy: 16.2}
});

// ---------- Panel D ----------
(function () {
  const g = svg.append("g");
  const dColors = ["#000000", "#4b70e3", "#c62830"];
  const x = d3.scaleLinear().domain([-10.72, 6.19]).range([428.3, 663.3]);
  const y = d3.scaleLinear().domain([-5.36, 3.44]).range([499.3, 313.3]);
  const yTop = d3.scaleLinear().domain([0, 1]).range([311.7, 274.5]);
  const xRight = d3.scaleLinear().domain([0, 1]).range([666.7, 714]);

  // zero reference lines
  g.append("line").attr("x1", x.range()[0]).attr("x2", x.range()[1]).attr("y1", y(0)).attr("y2", y(0))
    .attr("stroke", "#8a8a8a").attr("stroke-width", 0.9);
  g.append("line").attr("x1", x(0)).attr("x2", x(0)).attr("y1", yTop.range()[1] - 1.5).attr("y2", y.range()[0])
    .attr("stroke", "#8a8a8a").attr("stroke-width", 0.9);

  const ax = g.append("g").attr("transform", `translate(0,${y.range()[0]})`)
    .call(d3.axisBottom(x).tickValues(dTicksX).tickSize(4).tickSizeOuter(0).tickFormat(d => String(d)));
  const ay = g.append("g").attr("transform", `translate(${x.range()[0]},0)`)
    .call(d3.axisLeft(y).tickValues(dTicksY).tickSize(4).tickSizeOuter(0).tickFormat(d => String(d)));
  styleAxis(ax, 14.3); styleAxis(ay, 14.3);
  ax.selectAll(".tick text").attr("y", 15).attr("dy", null);
  ay.selectAll(".tick text").attr("x", -5.2).attr("dy", "0.36em");

  const sets = [dNone, dTyp, dSuper];
  sets.forEach((s, i) => {
    g.append("g").selectAll("circle").data(s).join("circle")
      .attr("cx", d => x(d[0])).attr("cy", d => y(d[1])).attr("r", 1.8).attr("fill", dColors[i]);
  });

  const topLine = d3.line().x(d => x(d[0])).y(d => yTop(d[1])).curve(d3.curveMonotoneX);
  [dTopNone, dTopTyp, dTopSuper].forEach((s, i) => {
    g.append("path").attr("d", topLine(s)).attr("fill", "none").attr("stroke", dColors[i]).attr("stroke-width", 2);
  });
  const rightLine = d3.line().x(d => xRight(d[1])).y(d => y(d[0])).curve(d3.curveMonotoneY);
  [dRightNone, dRightTyp, dRightSuper].forEach((s, i) => {
    const sorted = s.slice().sort((a, b) => a[0] - b[0]);
    g.append("path").attr("d", rightLine(sorted)).attr("fill", "none").attr("stroke", dColors[i]).attr("stroke-width", 2);
  });

  dR.forEach((r, i) => txt(g, 438.3, 331.7 + i * 12.2, r.replace(/ /g, "\u2009"), 12.8, {fill: dColors[i]}));

  dNames.forEach((nm, i) => {
    const yy = 272.5 + i * 16.2;
    g.append("circle").attr("cx", 631.7).attr("cy", yy - 4.6).attr("r", 2.4).attr("fill", dColors[i]);
    txt(g, 638.3, yy, nm, 14.2);
  });

  log2Title(g, (x.range()[0] + x.range()[1]) / 2, 528, "fold change Flavopiridol vs DMSO", 15, false);
  log2Title(g, 409.5, (y.range()[0] + y.range()[1]) / 2, "fold change JQ1 vs DMSO", 15, true);
})();

// ---------- Panel E ----------
(function () {
  const g = svg.append("g");
  const x = d3.scaleLinear().domain([-160, 632]).range([72.7, 336.7]);
  const y = d3.scaleLinear().domain([0, 1.2]).range([769.3, 587.7]);
  const eColors = {all: "#000000", flavo: "#b03c3a", jq1: "#8cb640", both: "#5a7fdb"};

  g.append("line").attr("x1", x.range()[0]).attr("x2", x.range()[1]).attr("y1", y(0)).attr("y2", y(0))
    .attr("stroke", "#bdbdbd").attr("stroke-width", 1);
  const ay = g.append("g").attr("transform", `translate(${x.range()[0]},0)`)
    .call(d3.axisLeft(y).tickValues(eTicksY).tickSize(5).tickSizeOuter(0).tickFormat(d => String(d)));
  styleAxis(ay, 14.2);
  ay.select(".domain").attr("stroke", "#bdbdbd");
  ay.selectAll(".tick line").attr("stroke", "#bdbdbd");
  ay.selectAll(".tick text").attr("x", -11.5).attr("dy", "0.36em");

  const line = d3.line().x(d => x(d[0])).y(d => y(d[1]));
  [[eFlavo, eColors.flavo], [eBoth, eColors.both], [eJQ1, eColors.jq1], [eAll, eColors.all]].forEach(([s, c]) => {
    g.append("path").attr("d", line(s)).attr("fill", "none").attr("stroke", c).attr("stroke-width", 1.6)
      .attr("stroke-linejoin", "round");
  });

  const lc = [eColors.all, eColors.flavo, eColors.jq1, eColors.both];
  eNames.forEach((nm, i) => {
    const yy = 606 + i * 23;
    g.append("line").attr("x1", 180).attr("x2", 190.5).attr("y1", yy - 4.5).attr("y2", yy - 4.5)
      .attr("stroke", lc[i]).attr("stroke-width", 2.2);
    txt(g, 190.7, yy, nm, 14.2);
  });

  rotText(g, 18, 677, "P-TEFb", 13.5);
  rotText(g, 35.5, 677, "(reads/million)", 13.5);

  // average gene schematic
  const x0 = x(0), x1 = x(eGeneEnd);
  g.append("rect").attr("x", x0 + 0.7).attr("y", 787.3).attr("width", x1 - x0 - 0.7).attr("height", 8.7).attr("fill", "#b0b0b0");
  g.append("path").attr("d", `M${x0},793.5 V779.3 H${x0 + 17}`).attr("fill", "none").attr("stroke", "#000").attr("stroke-width", 1.6);
  g.append("path").attr("d", `M${x0 + 15.5},775 L${x0 + 25.5},779.3 L${x0 + 15.5},783.6 Z`).attr("fill", "#000");
  txt(g, (x0 + x1) / 2 - 4, 805.5, "Average gene", 14, {anchor: "middle", style: "italic"});
})();
</script>
</body>
</html>
